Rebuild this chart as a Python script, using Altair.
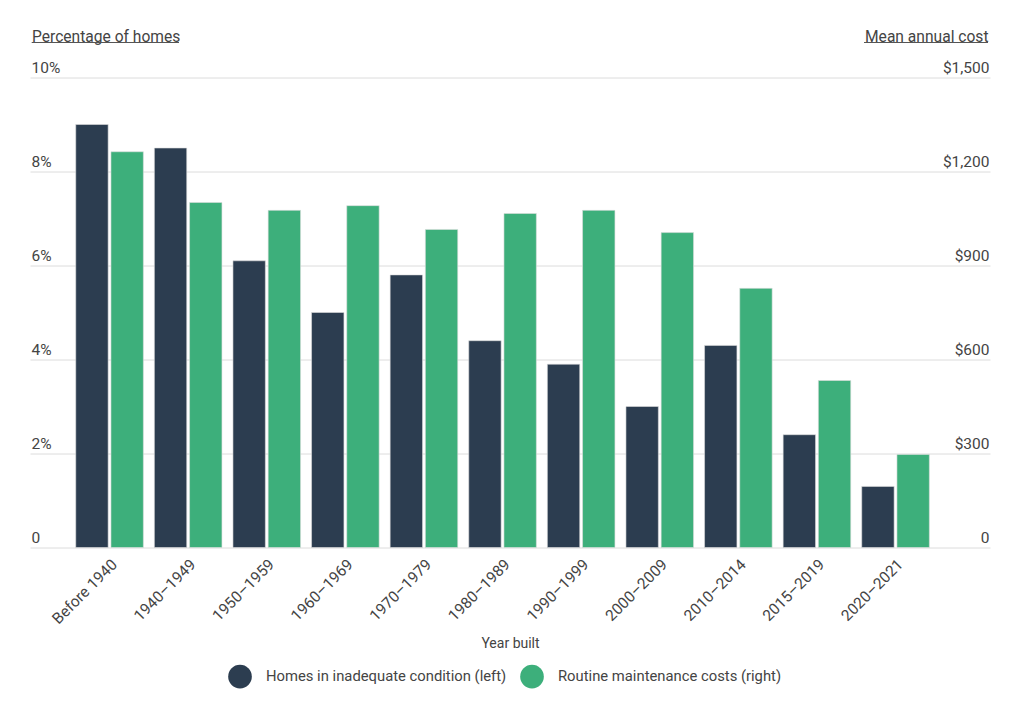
import altair as alt
import pandas as pd

categories = ["Before 1940", "1940–1949", "1950–1959", "1960–1969", "1970–1979",
              "1980–1989", "1990–1999", "2000–2009", "2010–2014", "2015–2019", "2020–2021"]
inadequate_pct = [9.0, 8.5, 6.1, 5.0, 5.8, 4.4, 3.9, 3.0, 4.3, 2.4, 1.3]
maintenance_cost = [1263, 1101, 1076, 1091, 1015, 1066, 1076, 1005, 827, 533, 297]
series = ["Homes in inadequate condition (left)", "Routine maintenance costs (right)"]
colors = ["#2c3d50", "#3daf7b"]
left_ticks = [0, 2, 4, 6, 8, 10]
right_ticks = [0, 300, 600, 900, 1200, 1500]

df_left = pd.DataFrame({"category": categories, "series": series[0], "value": inadequate_pct})
df_right = pd.DataFrame({"category": categories, "series": series[1], "value": maintenance_cost})

TXT = "#444444"

x_enc = alt.X(
    "category:N", sort=categories,
    scale=alt.Scale(paddingInner=0.14, paddingOuter=0.677, align=0.43),
    axis=alt.Axis(title="Year built", labelAngle=-45, labelFontSize=15.5, labelColor=TXT,
                  labelPadding=9, ticks=False, domain=False, titleFontSize=14,
                  titleFontWeight="normal", titleColor=TXT, titlePadding=10),
)
xoff = alt.XOffset("series:N", scale=alt.Scale(domain=series, paddingInner=0.08))
color = alt.Color(
    "series:N", scale=alt.Scale(domain=series, range=colors),
    legend=alt.Legend(title=None, orient="none", legendX=198, legendY=587,
                      direction="horizontal", symbolType="circle", symbolSize=560,
                      symbolStrokeWidth=0, labelFontSize=14.8, labelColor=TXT,
                      labelOffset=14, columnPadding=13, labelLimit=500),
)

left = alt.Chart(df_left).mark_bar(stroke="#dddddd", strokeWidth=0.6).encode(
    x=x_enc, xOffset=xoff, color=color,
    y=alt.Y("value:Q", scale=alt.Scale(domain=[0, 10]),
            axis=alt.Axis(title="Percentage of homes", values=left_ticks,
                          labelExpr="datum.value == 0 ? '0' : datum.value + '%'",
                          orient="left", grid=True, gridColor="#dcdcdc", gridWidth=1,
                          domain=False, ticks=False, tickSize=0,
                          labelAlign="left", labelBaseline="alphabetic", labelOffset=-5,
                          labelPadding=-1, labelFontSize=15.5, labelColor=TXT,
                          titleAngle=0, titleAlign="left", titleBaseline="middle",
                          titleX=1.5, titleY=-41.5, titleFontSize=15.6,
                          titleFontWeight="normal", titleColor=TXT)),
    tooltip=["category", "value"],
)

right = alt.Chart(df_right).mark_bar(stroke="#dddddd", strokeWidth=0.6).encode(
    x=x_enc, xOffset=xoff, color=color,
    y=alt.Y("value:Q", scale=alt.Scale(domain=[0, 1500]),
            axis=alt.Axis(title="Mean annual cost", values=right_ticks,
                          labelExpr="datum.value == 0 ? '0' : format(datum.value, '$,')",
                          orient="right", grid=False, domain=False, ticks=False, tickSize=0,
                          labelAlign="right", labelBaseline="alphabetic", labelOffset=-5,
                          labelPadding=-1, labelFontSize=15.5, labelColor=TXT,
                          titleAngle=0, titleAlign="right", titleBaseline="middle",
                          titleX=-2, titleY=-41.5, titleFontSize=15.6,
                          titleFontWeight="normal", titleColor=TXT)),
    tooltip=["category", "value"],
)

one = pd.DataFrame({"k": [0]})
ul_left = alt.Chart(one).mark_rule(color="#555555", strokeWidth=1).encode(
    x=alt.value(1.7), x2=alt.value(149), y=alt.value(-35))
ul_right = alt.Chart(one).mark_rule(color="#555555", strokeWidth=1).encode(
    x=alt.value(834), x2=alt.value(958), y=alt.value(-35))

chart = alt.layer(left, right, ul_left, ul_right).resolve_scale(y="independent").properties(
    width=960, height=470,
    autosize=alt.AutoSizeParams(type="none"),
    padding={"left": 22, "top": 69.5, "right": 26, "bottom": 150},
).configure(font="Roboto").configure_view(stroke=None)

chart.save("out.html", embed_options={"renderer": "svg", "actions": False})
